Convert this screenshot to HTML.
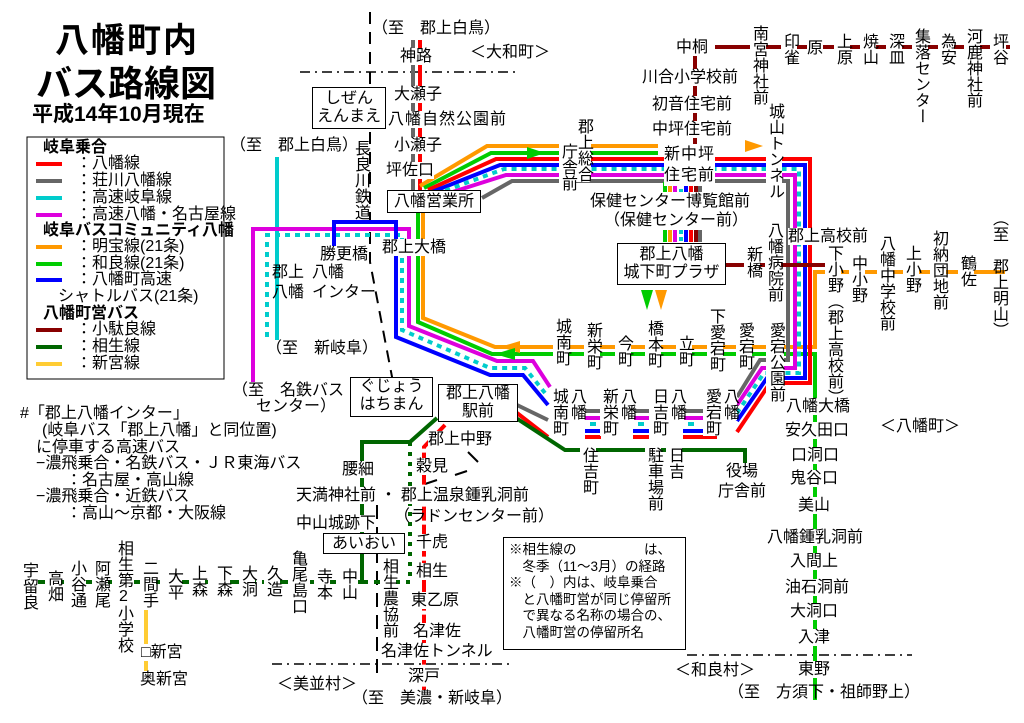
<!DOCTYPE html>
<html><head><meta charset="utf-8">
<style>
body{margin:0;background:#fff}
#w{position:relative;width:1024px;height:723px;overflow:hidden;background:#fff}
svg{position:absolute;left:0;top:0}
.t{position:absolute;font:16px/17px "Liberation Sans","Noto Sans CJK JP",sans-serif;white-space:nowrap;color:#000;background:#fff}
.n{background:none}
.v{writing-mode:vertical-rl;text-orientation:upright;line-height:16px;letter-spacing:0}
.b{font-weight:bold}
.box{position:absolute;border:1px solid #000;background:#fff;font:16px/18px "Liberation Sans","Noto Sans CJK JP",sans-serif;text-align:center;box-sizing:border-box}
</style></head><body><div id="w">
<svg width="1024" height="723" viewBox="0 0 1024 723">
<g fill="none" stroke-linejoin="miter">
<path d="M370,12V262L393,382" stroke="#000" stroke-width="2" stroke-dasharray="12,8"/>
<path d="M468,452L478,462M455,475L467,471M425,484L437,480" stroke="#000" stroke-width="2"/>
<path d="M377,505V680" stroke="#000" stroke-width="2" stroke-dasharray="14,8"/>
<path d="M300,72H520" stroke="#000" stroke-width="1.5" stroke-dasharray="10,5,2,5"/>
<path d="M272,664H512M687,655H912" stroke="#000" stroke-width="1.5" stroke-dasharray="10,5,2,5"/>
<path d="M413,40V190" stroke="#666" stroke-width="4"/>
<path d="M420,40V190" stroke="#f00" stroke-width="4"/>
<path d="M277,157V340" stroke="#0cc" stroke-width="4"/>
<path d="M253,382V229H409V326L497,361H533L550,387" stroke="#d0d" stroke-width="4"/>
<path d="M267,337V235H402V330L490,368H525L545,393" stroke="#0cc" stroke-width="4" stroke-dasharray="5,5"/>
<path d="M334,263V222H396V337L490,375H523L548,405" stroke="#00f" stroke-width="4"/>
<path d="M418,212V322L492,354H815V700" stroke="#0c0" stroke-width="4"/>
<path d="M423,212V318L495,347H815V272H1005" stroke="#f90" stroke-width="4"/>
<path d="M420,186L487,146H658" stroke="#f90" stroke-width="4"/>
<path d="M424,188L491,153H658" stroke="#0c0" stroke-width="4"/>
<path d="M428,190L496,159H810V383H770L737,432" stroke="#f00" stroke-width="4"/>
<path d="M432,192L500,165H805V378H767L737,421" stroke="#00f" stroke-width="4"/>
<path d="M436,194L504,169H799V373H764L737,413" stroke="#0cc" stroke-width="4" stroke-dasharray="5,5"/>
<path d="M440,196L506,175H795V368H762L737,405" stroke="#d0d" stroke-width="4"/>
<path d="M482,198L512,181H788V360H760L737,397" stroke="#666" stroke-width="4"/>
<path d="M517,405L548,420" stroke="#666" stroke-width="4"/>
<path d="M517,413L548,437" stroke="#f00" stroke-width="4"/>
<g stroke-width="4">
<path d="M585,411h16M633,411h16M683,411h34" stroke="#666"/>
<path d="M585,418h16M633,418h16M683,418h34" stroke="#d0d"/>
<path d="M590,424h6M638,424h6M688,424h6M704,424h6" stroke="#0cc"/>
<path d="M585,431h16M633,431h16M683,431h34" stroke="#00f"/>
<path d="M585,437h16M633,437h16M683,437h34" stroke="#f00"/>
</g>
<g stroke-width="4">
<path d="M665,182v10M665,230v12" stroke="#0c0"/><path d="M670,182v10M670,230v12" stroke="#f90"/>
<path d="M675,182v10M675,230v12" stroke="#d0d"/><path d="M681,182v10M681,230v12" stroke="#0cc" stroke-dasharray="4,3"/>
<path d="M686,182v10M686,230v12" stroke="#00f"/><path d="M691,182v10M691,230v12" stroke="#f00"/>
<path d="M696,182v10M696,230v12" stroke="#800"/><path d="M700,182v10M700,230v12" stroke="#666"/>
</g>
<path d="M715,47H1010" stroke="#800" stroke-width="4"/>
<path d="M695,47V145" stroke="#800" stroke-width="4"/>
<path d="M726,265H825" stroke="#800" stroke-width="4"/>
<path d="M437,418L410,442H362V582" stroke="#060" stroke-width="4"/>
<path d="M410,442V582" stroke="#060" stroke-width="4" stroke-dasharray="4,6"/>
<path d="M38,582H410" stroke="#060" stroke-width="4" stroke-dasharray="10,6"/>
<path d="M516,418L565,450H745V463" stroke="#060" stroke-width="4"/>
<path d="M445,425L424,447V690" stroke="#f00" stroke-width="4" stroke-dasharray="14,4"/>
<path d="M146,610V680" stroke="#fc3" stroke-width="4"/>
<g stroke-width="4">
<path d="M36,164h26" stroke="#f00"/><path d="M36,181h26" stroke="#666"/>
<path d="M36,198h26" stroke="#0cc"/><path d="M36,215h26" stroke="#d0d"/>
<path d="M36,247h26" stroke="#f90"/><path d="M36,264h26" stroke="#0c0"/>
<path d="M36,280h26" stroke="#00f"/><path d="M36,330h26" stroke="#800"/>
<path d="M36,347h26" stroke="#060"/><path d="M36,364h26" stroke="#fc3"/>
<path d="M584,552h7M596,552h7M608,552h7M620,552h7" stroke="#060"/>
</g>
</g>
<polygon points="527,147 545,153 527,159" fill="#0c0"/>
<polygon points="745,140 763,146 745,152" fill="#f90"/>
<polygon points="641,290 653,290 647,310" fill="#0c0"/>
<polygon points="655,290 667,290 661,310" fill="#f90"/>
<polygon points="520,341 500,347 520,353" fill="#f90"/>
<polygon points="515,348 495,354 515,360" fill="#0c0"/>
<rect x="27" y="137" width="197" height="242" fill="none" stroke="#000" stroke-width="1"/>
</svg>

<div class="t b n" style="left:55px;top:22px;font-size:34px;line-height:38px;letter-spacing:2px">八幡町内</div>
<div class="t b n" style="left:36px;top:64px;font-size:36px;line-height:40px">バス路線図</div>
<div class="t b n" style="left:32px;top:103px;font-size:21px;line-height:24px">平成14年10月現在</div>
<div class="t b n" style="left:43px;top:139px">岐阜乗合</div>
<div class="t n" style="left:76px;top:155px">：八幡線</div>
<div class="t n" style="left:76px;top:172px">：荘川八幡線</div>
<div class="t n" style="left:76px;top:189px">：高速岐阜線</div>
<div class="t n" style="left:76px;top:206px">：高速八幡・名古屋線</div>
<div class="t b n" style="left:43px;top:222px">岐阜バスコミュニティ八幡</div>
<div class="t n" style="left:76px;top:238px">：明宝線(21条)</div>
<div class="t n" style="left:76px;top:255px">：和良線(21条)</div>
<div class="t n" style="left:76px;top:271px">：八幡町高速</div>
<div class="t n" style="left:58px;top:288px">シャトルバス(21条)</div>
<div class="t b n" style="left:43px;top:305px">八幡町営バス</div>
<div class="t n" style="left:76px;top:321px">：小駄良線</div>
<div class="t n" style="left:76px;top:338px">：相生線</div>
<div class="t n" style="left:76px;top:355px">：新宮線</div>
<div class="t n" style="left:20px;top:405px">#「郡上八幡インター」</div>
<div class="t n" style="left:42px;top:422px">(岐阜バス「郡上八幡」と同位置)</div>
<div class="t n" style="left:36px;top:439px">に停車する高速バス</div>
<div class="t n" style="left:36px;top:455px">−濃飛乗合・名鉄バス・ＪＲ東海バス</div>
<div class="t n" style="left:66px;top:472px">：名古屋・高山線</div>
<div class="t n" style="left:36px;top:488px">−濃飛乗合・近鉄バス</div>
<div class="t n" style="left:66px;top:505px">：高山〜京都・大阪線</div>
<div class="box" style="left:503px;top:537px;width:183px;height:113px;text-align:left;padding:4px 0 0 5px;font-size:13.5px;line-height:16.5px;white-space:nowrap;overflow:hidden">※相生線の　　　　　は、<br>　冬季（11〜3月）の経路<br>※（　）内は、岐阜乗合<br>　と八幡町営が同じ停留所<br>　で異なる名称の場合の、<br>　八幡町営の停留所名</div>
<div class="t n" style="left:372px;top:20px">（至　郡上白鳥）</div>
<div class="t" style="left:400px;top:48px">神路</div>
<div class="t n" style="left:470px;top:44px">＜大和町＞</div>
<div class="box" style="left:312px;top:87px;width:74px;height:42px;padding-top:2px">しぜん<br>えんまえ</div>
<div class="t" style="left:394px;top:86px">大瀬子</div>
<div class="t" style="left:388px;top:111px;letter-spacing:1px">八幡自然公園前</div>
<div class="t" style="left:394px;top:137px">小瀬子</div>
<div class="t" style="left:386px;top:162px">坪佐口</div>
<div class="box" style="left:387px;top:190px;width:94px;height:23px;line-height:21px">八幡営業所</div>
<div class="t v" style="left:352px;top:140px">長良川鉄道</div>
<div class="t n" style="left:230px;top:137px">（至　郡上白鳥）</div>
<div class="t" style="left:382px;top:239px">郡上大橋</div>
<div class="t" style="left:320px;top:246px">勝更橋</div>
<div class="t n" style="left:272px;top:263px;line-height:20px">郡上<br>八幡</div>
<div class="t n" style="left:312px;top:263px;line-height:20px">八幡<br>インター</div>
<div class="t n" style="left:266px;top:340px">（至　新岐阜）</div>
<div class="t n" style="left:232px;top:382px">（至　名鉄バス</div>
<div class="t n" style="left:256px;top:398px">センター）</div>
<div class="box" style="left:350px;top:377px;width:83px;height:40px">ぐじょう<br>はちまん</div>
<div class="box" style="left:438px;top:384px;width:80px;height:38px">郡上八幡<br>駅前</div>
<div class="t" style="left:428px;top:431px">郡上中野</div>
<div class="t" style="left:416px;top:458px">穀見</div>
<div class="t" style="left:342px;top:461px">腰細</div>
<div class="t" style="left:296px;top:487px">天満神社前 ・ 郡上温泉鍾乳洞前</div>
<div class="t n" style="left:394px;top:508px">（ラドンセンター前）</div>
<div class="t" style="left:296px;top:515px">中山城跡下</div>
<div class="box" style="left:323px;top:533px;width:82px;height:21px;line-height:19px">あいおい</div>
<div class="t" style="left:416px;top:534px">千虎</div>
<div class="t" style="left:416px;top:563px">相生</div>
<div class="t" style="left:411px;top:592px">東乙原</div>
<div class="t" style="left:413px;top:623px">名津佐</div>
<div class="t" style="left:381px;top:643px">名津佐トンネル</div>
<div class="t" style="left:408px;top:668px">深戸</div>
<div class="t n" style="left:277px;top:676px">＜美並村＞</div>
<div class="t n" style="left:352px;top:690px">（至　美濃・新岐阜）</div>
<div class="t v" style="left:380px;top:558px">相生農協前</div>
<div class="t v" style="left:20px;top:562px">宇留良</div>
<div class="t v" style="left:45px;top:570px">高畑</div>
<div class="t v" style="left:68px;top:560px">小谷通</div>
<div class="t v" style="left:92px;top:560px">阿瀬尾</div>
<div class="t v" style="left:115px;top:540px">相生第2小学校</div>
<div class="t v" style="left:140px;top:560px">二間手</div>
<div class="t v" style="left:165px;top:568px">大平</div>
<div class="t v" style="left:189px;top:565px">上森</div>
<div class="t v" style="left:214px;top:565px">下森</div>
<div class="t v" style="left:239px;top:565px">大洞</div>
<div class="t v" style="left:264px;top:565px">久造</div>
<div class="t v" style="left:289px;top:550px">亀尾島口</div>
<div class="t v" style="left:314px;top:568px">寺本</div>
<div class="t v" style="left:339px;top:568px">中山</div>
<div class="t" style="left:141px;top:644px">□新宮</div>
<div class="t" style="left:140px;top:671px">奥新宮</div>
<div class="t" style="left:676px;top:39px">中桐</div>
<div class="t" style="left:642px;top:69px">川合小学校前</div>
<div class="t" style="left:652px;top:96px">初音住宅前</div>
<div class="t" style="left:652px;top:121px">中坪住宅前</div>
<div class="t v" style="left:750px;top:25px">南宮神社前</div>
<div class="t v" style="left:781px;top:33px">印雀</div>
<div class="t" style="left:807px;top:40px">原</div>
<div class="t v" style="left:834px;top:33px">上原</div>
<div class="t v" style="left:860px;top:33px">焼山</div>
<div class="t v" style="left:886px;top:33px">深皿</div>
<div class="t v" style="left:912px;top:28px">集落センター</div>
<div class="t v" style="left:938px;top:33px">為安</div>
<div class="t v" style="left:964px;top:28px">河鹿神社前</div>
<div class="t v" style="left:990px;top:33px">坪谷</div>
<div class="t v" style="left:766px;top:103px">城山トンネル</div>
<div class="t v" style="left:575px;top:118px;line-height:16px">郡上総合</div>
<div class="t v" style="left:559px;top:143px">庁舎前</div>
<div class="t" style="left:664px;top:144px;line-height:21px;letter-spacing:1px">新中坪<br>住宅前</div>
<div class="t n" style="left:590px;top:193px">保健センター博覧館前</div>
<div class="t n" style="left:604px;top:212px">（保健センター前）</div>
<div class="box" style="left:617px;top:243px;width:109px;height:42px;padding-top:2px">郡上八幡<br>城下町プラザ</div>
<div class="t v" style="left:744px;top:246px">新橋</div>
<div class="t v" style="left:765px;top:222px">八幡病院前</div>
<div class="t" style="left:788px;top:228px">郡上高校前</div>
<div class="t v" style="left:825px;top:245px">下小野（郡上高校前）</div>
<div class="t v" style="left:849px;top:255px">中小野</div>
<div class="t v" style="left:877px;top:235px">八幡中学校前</div>
<div class="t v" style="left:903px;top:245px">上小野</div>
<div class="t v" style="left:930px;top:230px">初納団地前</div>
<div class="t v" style="left:958px;top:255px">鶴佐</div>
<div class="t v n" style="left:990px;top:210px">（至　郡上明山）</div>
<div class="t v" style="left:553px;top:318px">城南町</div>
<div class="t v" style="left:584px;top:322px">新栄町</div>
<div class="t v" style="left:615px;top:335px">今町</div>
<div class="t v" style="left:645px;top:320px">橋本町</div>
<div class="t v" style="left:676px;top:335px">立町</div>
<div class="t v" style="left:707px;top:308px">下愛宕町</div>
<div class="t v" style="left:736px;top:322px">愛宕町</div>
<div class="t v" style="left:766px;top:322px;line-height:18px">愛宕公園前</div>
<div class="t v" style="left:550px;top:388px">城南町</div>
<div class="t v" style="left:568px;top:388px">八幡</div>
<div class="t v" style="left:600px;top:388px">新栄町</div>
<div class="t v" style="left:618px;top:388px">八幡</div>
<div class="t v" style="left:650px;top:388px">日吉町</div>
<div class="t v" style="left:668px;top:388px">八幡</div>
<div class="t v" style="left:703px;top:388px">愛宕町</div>
<div class="t v" style="left:721px;top:388px">八幡</div>
<div class="t v" style="left:580px;top:447px">住吉町</div>
<div class="t v" style="left:645px;top:447px">駐車場前</div>
<div class="t v" style="left:666px;top:447px">日吉</div>
<div class="t" style="left:726px;top:463px">役場</div>
<div class="t" style="left:718px;top:483px">庁舎前</div>
<div class="t" style="left:786px;top:398px">八幡大橋</div>
<div class="t" style="left:785px;top:422px">安久田口</div>
<div class="t" style="left:791px;top:447px">口洞口</div>
<div class="t" style="left:790px;top:470px">鬼谷口</div>
<div class="t" style="left:798px;top:497px">美山</div>
<div class="t" style="left:767px;top:529px">八幡鍾乳洞前</div>
<div class="t" style="left:790px;top:553px">入間上</div>
<div class="t" style="left:785px;top:579px">油石洞前</div>
<div class="t" style="left:790px;top:603px">大洞口</div>
<div class="t" style="left:798px;top:629px">入津</div>
<div class="t" style="left:798px;top:661px">東野</div>
<div class="t n" style="left:675px;top:662px">＜和良村＞</div>
<div class="t n" style="left:728px;top:684px">（至　方須下・祖師野上）</div>
<div class="t n" style="left:880px;top:418px">＜八幡町＞</div>
</div></body></html>
